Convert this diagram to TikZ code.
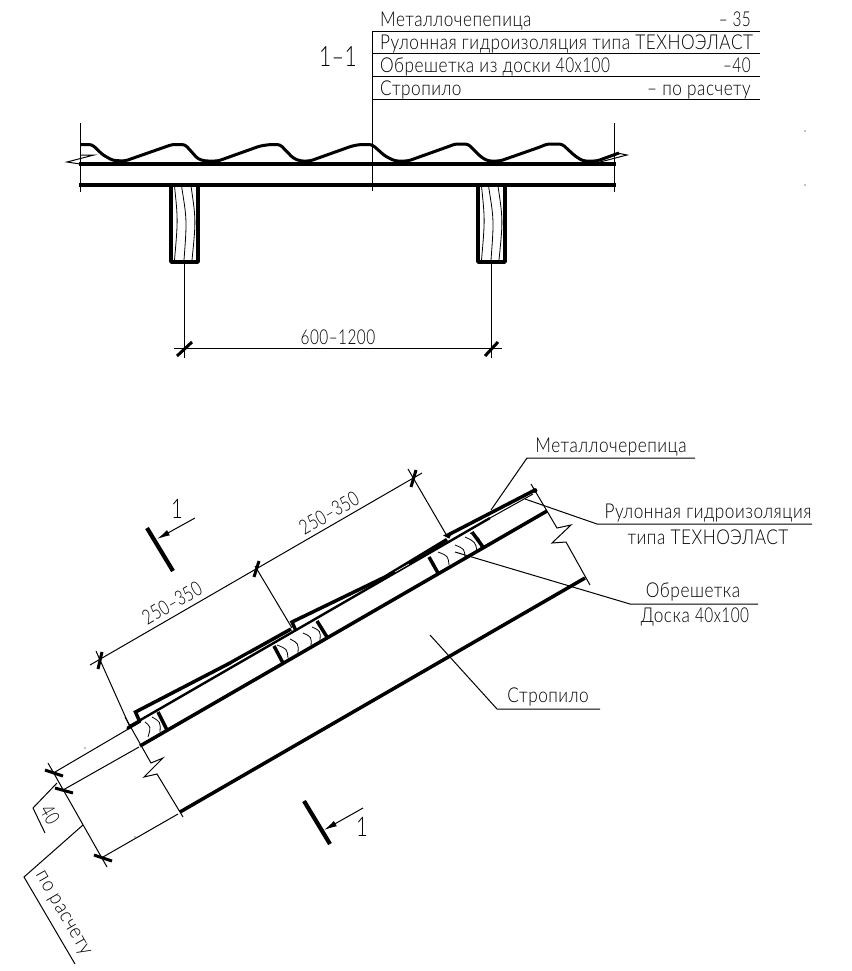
\documentclass[tikz,border=0pt]{standalone}
\usepackage{fontspec}
\setmainfont{Lato Light}[LetterSpace=3]
\usetikzlibrary{arrows.meta}
\newcommand{\gtxt}[1]{\scalebox{0.84}[1]{#1}}
\newcommand{\gnum}[1]{\scalebox{0.75}[1]{#1}}
\tikzset{
  x=1pt,y=-1pt,
  thin line/.style={line width=1pt,black},
  heavy/.style={line width=3.5pt,black,line cap=butt,line join=round},
  hair/.style={line width=0.8pt,black},
  ticky/.style={line width=3pt,black},
  lbl/.style={inner sep=0pt,font=\fontsize{20.5}{23}\selectfont,text=black},
  dimlbl/.style={lbl},
  secarrow/.style={thin line,-{Latex[length=13pt,width=6pt]}},
}
\begin{document}
\begin{tikzpicture}
\useasboundingbox (0,0) rectangle (851,971);
% ---- section 1-1 ----
\node[lbl,font=\fontsize{28}{30}\selectfont] (title) at (338,57) {\gnum{1–1}};
\draw[thin line] (372,191) -- (372,31.5) -- (760,31.5);
\draw[thin line] (372,54) -- (760,54) (372,77) -- (760,77) (372,100) -- (760,100);
\node[lbl,anchor=base west] (m1) at (380,27) {\gtxt{Металлочепепица}};
\node[lbl,anchor=base east] (m1v) at (751,27) {\gnum{– 35}};
\node[lbl,anchor=base west] (m2) at (380,50) {\gtxt{Рулонная гидроизоляция типа ТЕХНОЭЛАСТ}};
\node[lbl,anchor=base west] (m3) at (380,73) {\gtxt{Обрешетка из доски }\gnum{40х100}};
\node[lbl,anchor=base east] (m3v) at (751,73) {\gnum{–40}};
\node[lbl,anchor=base west] (m4) at (380,96) {\gtxt{Стропило}};
\node[lbl,anchor=base east] (m4v) at (751,96) {\gtxt{– по расчету}};
\draw[thin line] (80,123) -- (80,192) (614,123) -- (614,192);
\draw[heavy] (79,164) -- (616,164);
\draw[heavy] (79,185) -- (616,185);
\draw[heavy,line width=3pt,rounded corners=3pt] (80,144.5) -- (92,144.5) -- (103,155) -- (113,160.5) -- (125,161) -- (165,147) -- (172,144.5) -- (185,144.5) -- (198,159) -- (205,161) -- (218,161) -- (260,146) -- (270,144.5) -- (280,144.5) -- (293,158) -- (300,161) -- (310,161) -- (352,146) -- (360,144.5) -- (372,144.5) -- (385,156) -- (395,161) -- (408,161) -- (450,146) -- (455,144) -- (468,144) -- (481,157) -- (488,161) -- (500,161) -- (540,147) -- (547,144) -- (562,144) -- (575,156) -- (583,161) -- (597,161) -- (619,153);
\draw[thin line] (80,155) -- (94,155) -- (67,162) -- (80,164);
\draw[thin line] (600,162) -- (627,155) -- (617,153);
\foreach \xo/\na in {171/a,478/b}{
  \draw[heavy] (\xo,186) -- (\xo,262) -- (\xo+27,262) -- (\xo+27,186);
  \draw[hair] (\xo+3.5,186) .. controls (\xo+7,220) .. (\xo+3.5,260);
  \draw[hair] (\xo+10.5,186) .. controls (\xo+16,220) .. (\xo+13,260);
  \draw[hair] (\xo+20,186) .. controls (\xo+25,220) .. (\xo+21,260);
}
\coordinate (ra) at (184.5,262);
\coordinate (rb) at (491,262);
\draw[thin line] (ra) -- (184.5,358) (rb) -- (491,358);
\draw[thin line] (174,348) -- (502,348);
\draw[ticky] (177,356) -- (192,342);
\draw[ticky] (485,356) -- (498,342);
\node[dimlbl] (d600) at (338,337) {\gnum{600–1200}};
% ---- lower detail ----
% rafter
\draw[heavy] (140,746) -- (547,511);
\draw[heavy] (180,812) -- (585,578);
% break lines
\draw[thin line] (125,717) -- (151,763) -- (163,758) -- (144,777) -- (157,774) -- (183,817);
\draw[thin line] (531,484) -- (557,528) -- (571,525) -- (552,543) -- (566,542) -- (590,585);
% membrane and tiles
\draw[heavy,line width=2.4pt] (130,726) -- (490,518);
\draw[thin line] (490,518) -- (533,494);
\draw[heavy,line cap=round] (128,728) -- (140,721);
\draw[heavy,line join=miter] (139,720) -- (135.5,712) -- (230,663) -- (291,629);
\draw[heavy,line join=miter] (296,631) -- (292,622) -- (385,577) -- (447,539.5);
\draw[heavy,line join=miter] (450,537) -- (447,535.5) -- (535,490);
\fill (535,490.5) circle (2.4pt);
% slivers where sheet and membrane merge
\draw[white,line width=0.6pt] (250,654) -- (232,664.3) (409,564) -- (395,572);
% battens
\draw[heavy] (158,712) -- (167,730);
\draw[heavy] (274,646) -- (283,663);
\draw[heavy] (317,621) -- (327,637);
\draw[heavy] (429,557) -- (438,573);
\draw[heavy] (472,532) -- (483,547);
% wood grain
\foreach \ax/\ay/\bx/\by in {277/645/288/658, 290/639/298/653, 303/633/311/646, 312/627/320/640, 438/552/449/565, 455/545/465/558, 465/537/477/552, 470/533/481/548, 145/722/148/737, 152/717/160/732}{
  \draw[hair] (\ax,\ay) .. controls ({(\ax+\bx)/2+4.5},{(\ay+\by)/2-2.6}) .. (\bx,\by);
}
% spacing dimension
\draw[thin line] (90,665) -- (422,473);
\draw[thin line] (96,651) -- (130,727);
\draw[thin line] (255,566) -- (292,628);
\draw[thin line] (408,469) -- (447,536);
\draw[ticky] (98,669) -- (102,652);
\draw[ticky] (254,577) -- (259,561);
\draw[ticky] (411,487) -- (416,470);
\node[dimlbl,rotate=30] (d1) at (172,603) {\gnum{250–350}};
\node[dimlbl,rotate=30] (d2) at (329,513) {\gnum{250–350}};
% height dimension
\draw[thin line] (48,763) -- (107,867);
\draw[thin line] (55,772) -- (130,728);
\draw[thin line] (63,790) -- (139,747);
\draw[thin line] (103,857) -- (178,814);
\draw[ticky] (45,770) -- (63,776);
\draw[ticky] (55,788) -- (73,793);
\draw[ticky] (94,855) -- (112,861);
\draw[thin line] (57,783) -- (33,808) -- (45,833);
\draw[thin line] (83,825) -- (24,877) -- (75,964);
\node[dimlbl,rotate=-60] (d40) at (50,815) {\gnum{40}};
\node[dimlbl,rotate=-60] (d3) at (62,914) {\scalebox{0.9}[1]{по расчету}};
% section marks
\draw[heavy,line width=4.2pt] (147,528) -- (173,571);
\draw[secarrow] (195,518) -- (157,539);
\node[lbl,font=\fontsize{27}{29}\selectfont] (s1) at (177,509) {\gnum{1}};
\draw[heavy,line width=4.2pt] (304,801) -- (330,844);
\draw[secarrow] (363,808) -- (324,830);
\node[lbl,font=\fontsize{27}{29}\selectfont] (s2) at (362,827) {\gnum{1}};
% leaders
\draw[thin line] (491,510) -- (527,458) -- (695,458);
\node[lbl] (l1) at (611,447) {\gtxt{Металлочерепица}};
\draw[thin line] (525,499) -- (597,524) -- (812,524);
\node[lbl] (l2) at (708,513) {\gtxt{Рулонная гидроизоляция}};
\node[lbl] (l2b) at (708,537) {\gtxt{типа ТЕХНОЭЛАСТ}};
\draw[thin line] (455,552) -- (630,604) -- (758,604);
\node[lbl] (l3) at (693,592) {\gtxt{Обрешетка}};
\node[lbl] (l3b) at (695,617) {\gtxt{Доска }\gnum{40х100}};
\draw[thin line] (430,635) -- (497,709) -- (600,709);
\node[lbl] (l4) at (548,697) {\gtxt{Стропило}};
% specks
\foreach \px/\py in {805/131,805/185,85/748,135/837}{\fill (\px,\py) circle (0.6pt);}
\end{tikzpicture}
\end{document}
